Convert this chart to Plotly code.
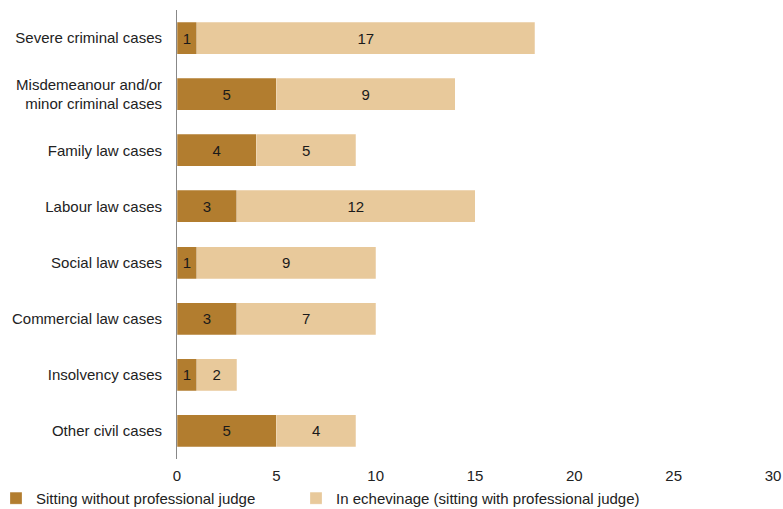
import plotly.graph_objects as go

categories = ["Severe criminal cases", "Misdemeanour and/or<br>minor criminal cases", "Family law cases",
              "Labour law cases", "Social law cases", "Commercial law cases", "Insolvency cases", "Other civil cases"]
without_judge = [1, 5, 4, 3, 1, 3, 1, 5]
echevinage = [17, 9, 5, 12, 9, 7, 2, 4]
series_names = ["Sitting without professional judge", "In echevinage (sitting with professional judge)"]
x_ticks = [0, 5, 10, 15, 20, 25, 30]

font_family = "Liberation Sans, Arial, sans-serif"
fig = go.Figure()
for vals, name, color, leg in [(without_judge, series_names[0], "#B27D2F", "legend"),
                               (echevinage, series_names[1], "#E8C99B", "legend2")]:
    fig.add_trace(go.Bar(
        y=categories, x=vals, name=name, orientation="h", legend=leg,
        marker=dict(color=color, line=dict(color="rgba(255,255,255,0.5)", width=0.5)),
        text=[str(v) for v in vals], textposition="inside", insidetextanchor="middle",
        textangle=0, constraintext="none",
        textfont=dict(family=font_family, size=15, color="#1a1a1a"),
        hoverinfo="x+name",
    ))

legend_common = dict(orientation="h", xanchor="left", y=-0.051, yanchor="top",
                     font=dict(size=15, color="#222"), itemclick=False,
                     bgcolor="rgba(0,0,0,0)")
fig.update_layout(
    barmode="stack", bargap=0.43,
    width=783, height=509,
    margin=dict(l=177, r=10, t=10, b=50, autoexpand=False),
    paper_bgcolor="white", plot_bgcolor="white",
    font=dict(family=font_family, size=15, color="#222"),
    showlegend=True,
    legend=dict(x=-0.3037, **legend_common),
    legend2=dict(x=0.1997, **legend_common),
    xaxis=dict(range=[0, 30], tickvals=x_ticks, showgrid=False, zeroline=False,
               showline=False, ticks="", tickfont=dict(size=15), ticklabelstandoff=6),
    yaxis=dict(autorange="reversed", showgrid=False, zeroline=False, showline=True,
               linecolor="#888", linewidth=1, ticks="", tickfont=dict(size=15), ticklabelstandoff=11),
)
fig.write_html("out.html", config={"displayModeBar": False},
               post_script=["document.body.style.margin='0';"])
